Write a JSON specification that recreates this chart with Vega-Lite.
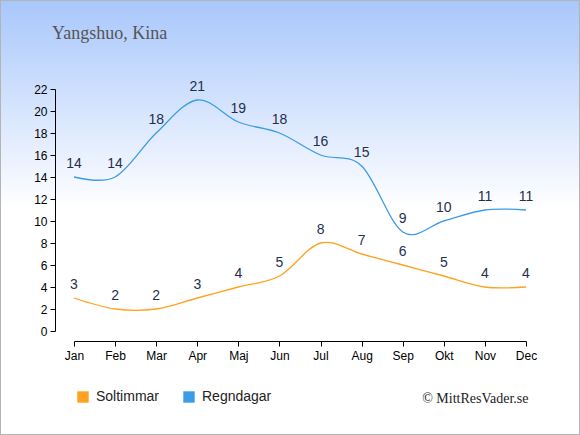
{
  "$schema": "https://vega.github.io/schema/vega-lite/v6.json",
  "width": 580,
  "height": 435,
  "autosize": "none",
  "padding": 0,
  "background": "#ffffff",
  "data": {
    "values": [
      {"month": "Jan", "serie": "Soltimmar", "value": 3},
      {"month": "Feb", "serie": "Soltimmar", "value": 2},
      {"month": "Mar", "serie": "Soltimmar", "value": 2},
      {"month": "Apr", "serie": "Soltimmar", "value": 3},
      {"month": "Maj", "serie": "Soltimmar", "value": 4},
      {"month": "Jun", "serie": "Soltimmar", "value": 5},
      {"month": "Jul", "serie": "Soltimmar", "value": 8},
      {"month": "Aug", "serie": "Soltimmar", "value": 7},
      {"month": "Sep", "serie": "Soltimmar", "value": 6},
      {"month": "Okt", "serie": "Soltimmar", "value": 5},
      {"month": "Nov", "serie": "Soltimmar", "value": 4},
      {"month": "Dec", "serie": "Soltimmar", "value": 4},
      {"month": "Jan", "serie": "Regndagar", "value": 14},
      {"month": "Feb", "serie": "Regndagar", "value": 14},
      {"month": "Mar", "serie": "Regndagar", "value": 18},
      {"month": "Apr", "serie": "Regndagar", "value": 21},
      {"month": "Maj", "serie": "Regndagar", "value": 19},
      {"month": "Jun", "serie": "Regndagar", "value": 18},
      {"month": "Jul", "serie": "Regndagar", "value": 16},
      {"month": "Aug", "serie": "Regndagar", "value": 15},
      {"month": "Sep", "serie": "Regndagar", "value": 9},
      {"month": "Okt", "serie": "Regndagar", "value": 10},
      {"month": "Nov", "serie": "Regndagar", "value": 11},
      {"month": "Dec", "serie": "Regndagar", "value": 11}
    ]
  },
  "title": {
    "text": "Yangshuo, Kina",
    "anchor": "start",
    "frame": "group",
    "orient": "top",
    "baseline": "alphabetic",
    "offset": -57,
    "dx": 52,
    "font": "Liberation Serif",
    "fontSize": 18,
    "fontWeight": "normal",
    "color": "#555555"
  },
  "encoding": {
    "x": {
      "field": "month",
      "type": "ordinal",
      "sort": ["Jan", "Feb", "Mar", "Apr", "Maj", "Jun", "Jul", "Aug", "Sep", "Okt", "Nov", "Dec"],
      "scale": {"type": "point", "range": [74, 526], "padding": 0},
      "axis": {
        "title": "© MittResVader.se",
        "titleFont": "Liberation Serif",
        "titleFontSize": 14,
        "titleFontWeight": "normal",
        "titleColor": "#222222",
        "titleAlign": "right",
        "titleAnchor": null,
        "titleBaseline": "alphabetic",
        "titleX": 528,
        "titleY": 61,
        "offset": -94,
        "labelAngle": 0,
        "labelFont": "Liberation Sans",
        "labelFontSize": 12,
        "labelColor": "#000000",
        "labelPadding": 4,
        "domainColor": "#000000",
        "tickColor": "#000000",
        "tickSize": 5,
        "grid": false
      }
    },
    "y": {
      "field": "value",
      "type": "quantitative",
      "scale": {"domain": [0, 22], "range": [331, 89], "nice": false, "zero": true},
      "axis": {
        "title": null,
        "values": [0, 2, 4, 6, 8, 10, 12, 14, 16, 18, 20, 22],
        "offset": -55,
        "labelFont": "Liberation Sans",
        "labelFontSize": 12,
        "labelColor": "#000000",
        "labelPadding": 3,
        "domainColor": "#000000",
        "tickColor": "#000000",
        "tickSize": 5,
        "grid": false
      }
    }
  },
  "layer": [
    {
      "mark": {"type": "line", "interpolate": "cardinal", "strokeWidth": 1.3},
      "encoding": {
        "color": {
          "field": "serie",
          "type": "nominal",
          "sort": ["Soltimmar", "Regndagar"],
          "scale": {"domain": ["Soltimmar", "Regndagar"], "range": ["#ffa21f", "#3d9ce8"]},
          "legend": {
            "title": null,
            "orient": "none",
            "legendX": 76,
            "legendY": 390,
            "direction": "horizontal",
            "symbolType": "square",
            "symbolSize": 130,
            "labelFont": "Liberation Sans",
            "labelFontSize": 14,
            "labelColor": "#222222",
            "labelOffset": 6,
            "columnPadding": 22,
            "encode": {
              "symbols": {
                "update": {
                  "fill": {"scale": "color", "field": "value"},
                  "stroke": {"value": "transparent"},
                  "strokeWidth": {"value": 0}
                }
              }
            }
          }
        }
      }
    },
    {
      "mark": {
        "type": "text",
        "dy": -13,
        "font": "Liberation Sans",
        "fontSize": 14,
        "color": "#1f2f50"
      },
      "encoding": {
        "text": {"field": "value", "type": "quantitative"}
      }
    }
  ],
  "config": {
    "view": {
      "stroke": "#b4b4b4",
      "strokeWidth": 2,
      "fill": {
        "gradient": "linear",
        "x1": 0, "y1": 0, "x2": 0, "y2": 1,
        "stops": [
          {"offset": 0, "color": "#a8c7fb"},
          {"offset": 0.48, "color": "#ffffff"},
          {"offset": 1, "color": "#ffffff"}
        ]
      }
    }
  }
}
